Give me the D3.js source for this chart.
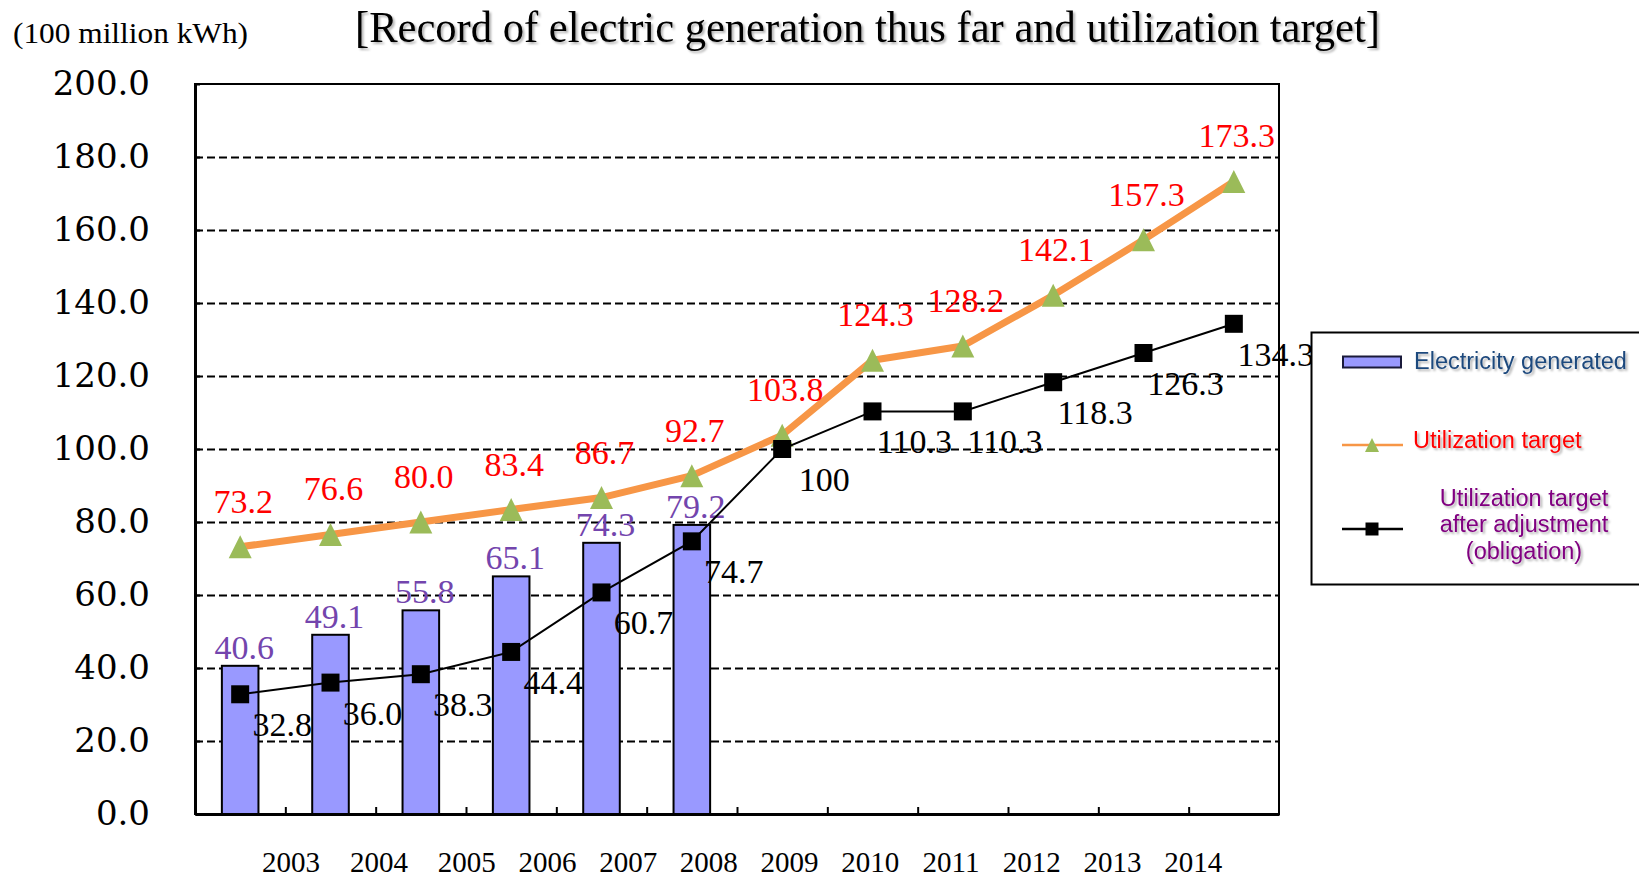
<!DOCTYPE html>
<html><head><meta charset="utf-8">
<script src="https://cdn.jsdelivr.net/npm/d3@7"></script>
<style>body{margin:0;background:#fff;} svg{display:block;background:#fff}</style>
</head><body>
<svg id="chart" width="1639" height="880"></svg>
<script>
// ---- data ----
const years = ["2003","2004","2005","2006","2007","2008","2009","2010","2011","2012","2013","2014"];
const generated = [40.6, 49.1, 55.8, 65.1, 74.3, 79.2];
const target = [73.2, 76.6, 80.0, 83.4, 86.7, 92.7, 103.8, 124.3, 128.2, 142.1, 157.3, 173.3];
const adjusted = [32.8, 36.0, 38.3, 44.4, 60.7, 74.7, 100, 110.3, 110.3, 118.3, 126.3, 134.3];
const adjustedText = ["32.8","36.0","38.3","44.4","60.7","74.7","100","110.3","110.3","118.3","126.3","134.3"];
const yTicks = [0,20,40,60,80,100,120,140,160,180,200];
const gridValues = [20,40,60,80,100,120,140,160,180];
const titleText = "[Record of electric generation thus far and utilization target]";
const unitText = "(100 million kWh)";
const legendNames = ["Electricity generated","Utilization target"];
const legendAdjLines = ["Utilization target","after adjustment","(obligation)"];

// ---- layout ----
const svg = d3.select("#chart");
const L = 195, R = 1279, T = 84, B = 814;
const x = d3.scaleBand().domain(years).range([L, R]).padding(0);
const xi = d3.scaleLinear().domain([0, years.length]).range([L, R]);
const y = d3.scaleLinear().domain([0, 200]).range([B, T]);
const cx = i => x(years[i]) + x.bandwidth() / 2;
const labelPos = d3.scaleLinear().domain([0, 2, 11]).range([290.6, 466.2, 1192.7]);

const defs = svg.append("defs");
const f = defs.append("filter").attr("id","shadow").attr("x","-5%").attr("y","-20%").attr("width","110%").attr("height","150%");
f.append("feDropShadow").attr("dx",2).attr("dy",2).attr("stdDeviation",1).attr("flood-color","#000").attr("flood-opacity",0.3);

const serif = "'Liberation Serif','Times New Roman',serif";
const serifWide = "'DejaVu Serif',serif";
const sans = "'Liberation Sans',Arial,sans-serif";

// title & unit
svg.append("text").attr("x", 355).attr("y", 42).attr("font-family", serif).attr("font-size", 45)
  .attr("textLength", 1025).attr("lengthAdjust", "spacingAndGlyphs").attr("filter","url(#shadow)")
  .text(titleText);
svg.append("text").attr("x", 13).attr("y", 43).attr("font-family", serif).attr("font-size", 30)
  .attr("textLength", 235).attr("lengthAdjust", "spacingAndGlyphs").text(unitText);

// gridlines
svg.append("g").attr("transform", `translate(${L},0)`)
  .call(d3.axisLeft(y).tickValues(gridValues).tickSize(-(R - L)).tickFormat(""))
  .call(g => g.select(".domain").remove())
  .selectAll("line").attr("stroke", "#000").attr("stroke-width", 2).attr("stroke-dasharray", "8,4");

// bars
const barW = x.bandwidth() * 0.405;
svg.append("g").selectAll("rect").data(generated).join("rect")
  .attr("x", (d, i) => cx(i) - barW / 2).attr("y", d => y(d))
  .attr("width", barW).attr("height", d => y(0) - y(d))
  .attr("fill", "#9999FF").attr("stroke", "#000").attr("stroke-width", 2);

// frame
svg.append("rect").attr("x", L).attr("y", T).attr("width", R - L).attr("height", B - T)
  .attr("fill", "none").attr("stroke", "#000").attr("stroke-width", 2);

// y axis
const yAxis = svg.append("g").attr("transform", `translate(${L},0)`)
  .call(d3.axisLeft(y).tickValues(yTicks).tickFormat(d3.format(".1f")).tickSize(-5).tickSizeOuter(0).tickPadding(45));
yAxis.select(".domain").attr("stroke-width", 3);
yAxis.selectAll("line").attr("stroke-width", 2);
yAxis.selectAll("text").attr("font-family", serifWide).attr("font-size", 34).attr("fill", "#000");

// x axis (boundary ticks)
const xAxis = svg.append("g").attr("transform", `translate(0,${B})`)
  .call(d3.axisBottom(xi).tickValues(d3.range(1, years.length)).tickSize(-7).tickSizeOuter(0).tickFormat(""));
xAxis.select(".domain").attr("stroke-width", 3);
xAxis.selectAll("line").attr("stroke-width", 2);

// x labels
const xLab = svg.append("g").attr("transform", `translate(0,${B})`)
  .call(d3.axisBottom(labelPos).tickValues(d3.range(years.length)).tickFormat(i => years[i]).tickSize(0).tickPadding(37));
xLab.select(".domain").remove();
xLab.selectAll("text").attr("font-family", serif).attr("font-size", 29).attr("fill", "#000");

// bar labels
svg.append("g").selectAll("text").data(generated).join("text")
  .attr("x", (d, i) => cx(i) + 4).attr("y", d => y(d) - 7)
  .attr("text-anchor", "middle").attr("font-family", serif).attr("font-size", 34)
  .attr("fill", "#7345AD").text(d => d3.format(".1f")(d));

// target line
const line = d3.line().x((d, i) => cx(i)).y(d => y(d));
svg.append("path").datum(target).attr("d", line).attr("fill", "none")
  .attr("stroke", "#F79646").attr("stroke-width", 7).attr("stroke-linejoin", "round");

const triType = { draw(ctx, size) { const h = Math.sqrt(size) / 2; ctx.moveTo(0, -h); ctx.lineTo(h, h); ctx.lineTo(-h, h); ctx.closePath(); } };
svg.append("g").selectAll("path").data(target).join("path")
  .attr("transform", (d, i) => `translate(${cx(i)},${y(d)})`)
  .attr("d", d3.symbol().type(triType).size(529)).attr("fill", "#9BBB59");

// adjusted line
svg.append("path").datum(adjusted).attr("d", line).attr("fill", "none")
  .attr("stroke", "#000").attr("stroke-width", 2);
svg.append("g").selectAll("path").data(adjusted).join("path")
  .attr("transform", (d, i) => `translate(${cx(i)},${y(d)})`)
  .attr("d", d3.symbol().type(d3.symbolSquare).size(324)).attr("fill", "#000");

// target labels
svg.append("g").selectAll("text").data(target).join("text")
  .attr("x", (d, i) => cx(i) + 3).attr("y", d => y(d) - 34)
  .attr("text-anchor", "middle").attr("font-family", serif).attr("font-size", 34)
  .attr("fill", "#FF0000").text(d => d3.format(".1f")(d));

// adjusted labels
svg.append("g").selectAll("text").data(adjusted).join("text")
  .attr("x", (d, i) => cx(i) + 42).attr("y", d => y(d) + 42)
  .attr("text-anchor", "middle").attr("font-family", serif).attr("font-size", 34)
  .attr("fill", "#000").text((d, i) => adjustedText[i]);

// legend
const lg = svg.append("g");
lg.append("rect").attr("x", 1311.5).attr("y", 332.5).attr("width", 360).attr("height", 252)
  .attr("fill", "#fff").attr("stroke", "#000").attr("stroke-width", 2);
lg.append("rect").attr("x", 1343).attr("y", 356.5).attr("width", 58).attr("height", 11)
  .attr("fill", "#9999FF").attr("stroke", "#1a1a3a").attr("stroke-width", 2);
lg.append("text").attr("x", 1414).attr("y", 369).attr("font-family", sans).attr("font-size", 23.5)
  .attr("fill", "#1F497D").attr("filter","url(#shadow)").text(legendNames[0]);

lg.append("line").attr("x1", 1342).attr("x2", 1403).attr("y1", 445).attr("y2", 445)
  .attr("stroke", "#F79646").attr("stroke-width", 2.5);
lg.append("path").attr("transform", "translate(1372,445)")
  .attr("d", d3.symbol().type(triType).size(196)).attr("fill", "#9BBB59");
lg.append("text").attr("x", 1413).attr("y", 448).attr("font-family", sans).attr("font-size", 23.5)
  .attr("fill", "#FF0000").attr("filter","url(#shadow)").text(legendNames[1]);

lg.append("line").attr("x1", 1342).attr("x2", 1403).attr("y1", 529).attr("y2", 529)
  .attr("stroke", "#000").attr("stroke-width", 2.5);
lg.append("path").attr("transform", "translate(1372,529)")
  .attr("d", d3.symbol().type(d3.symbolSquare).size(169)).attr("fill", "#000");
lg.append("g").selectAll("text").data(legendAdjLines).join("text")
  .attr("x", 1524).attr("y", (d, i) => 506 + i * 26.3).attr("text-anchor", "middle")
  .attr("font-family", sans).attr("font-size", 23.5).attr("fill", "#800080").attr("filter","url(#shadow)")
  .text(d => d);
</script>
</body></html>
